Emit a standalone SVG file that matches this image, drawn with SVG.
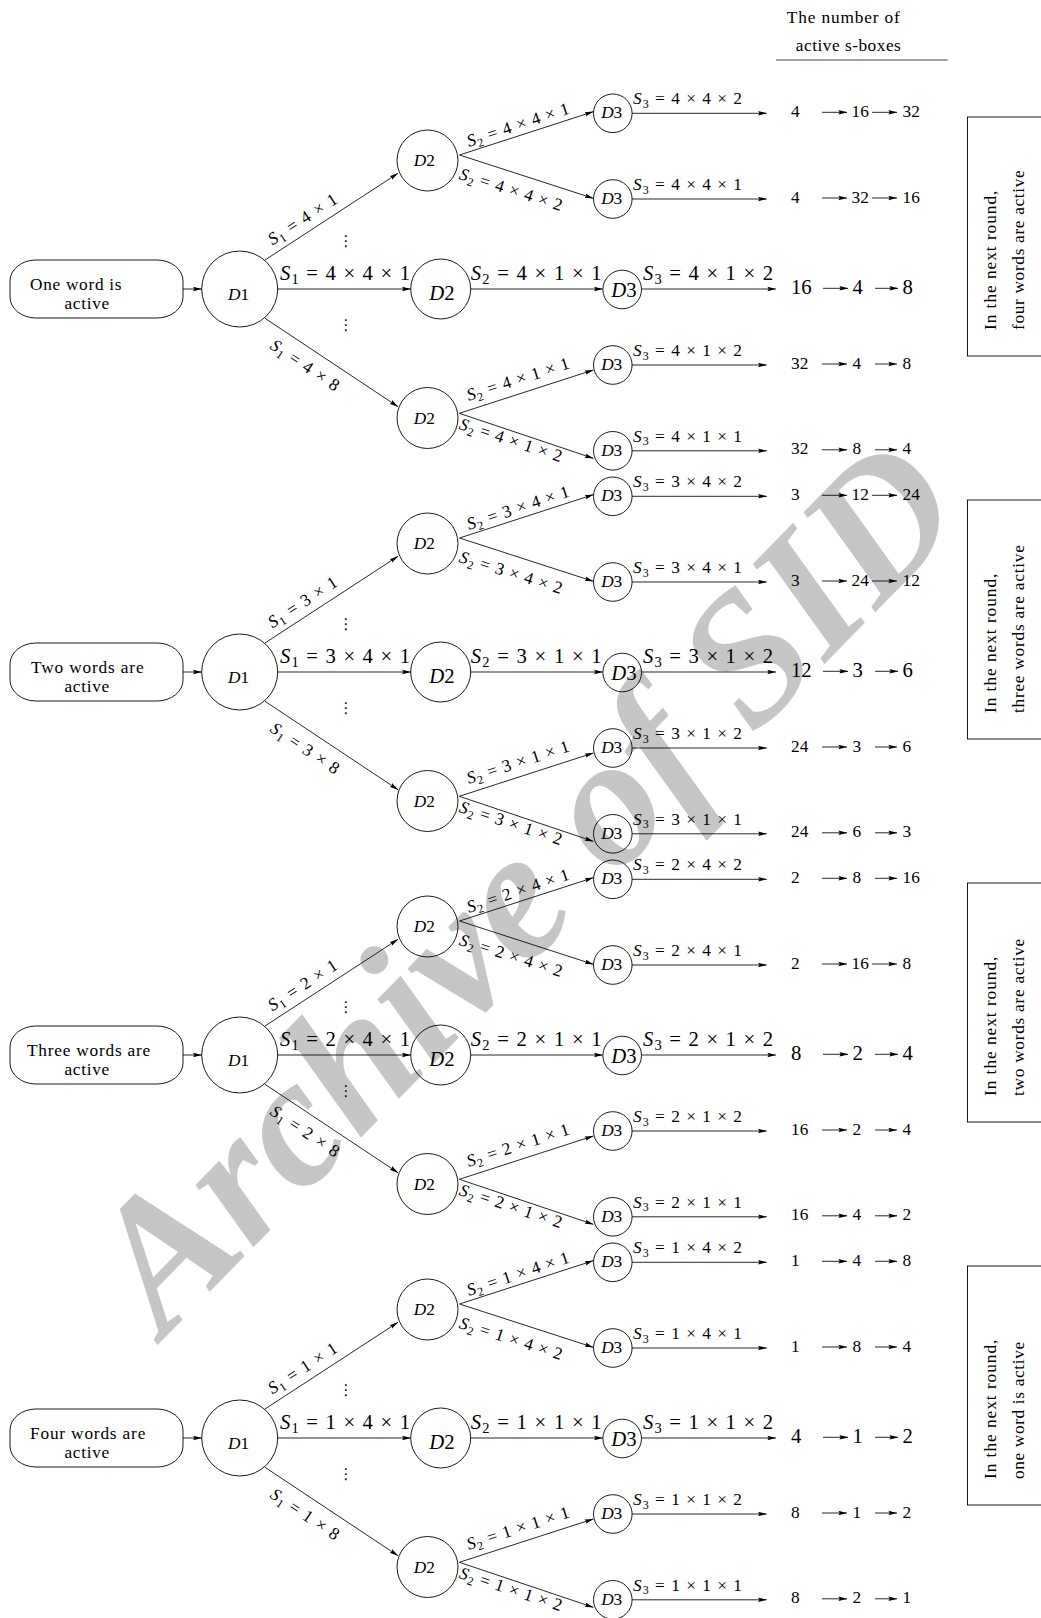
<svg xmlns="http://www.w3.org/2000/svg" width="1041" height="1618" viewBox="0 0 1041 1618">
<style>
.t{font-family:"Liberation Serif","Times New Roman",serif;fill:#000}
.n{font-size:17.3px}
.L{font-size:20.7px}
.i{font-style:italic}
.s{font-size:12px}
.sL{font-size:14.5px}
.ln{stroke:#000;stroke-width:0.85;fill:none}
.a{marker-end:url(#ah)}
.c{fill:none;stroke:#000;stroke-width:0.9}
.dots{font-family:"DejaVu Sans",sans-serif;font-size:15px;fill:#000}
.wm{font-family:"Liberation Serif","Times New Roman",serif;font-weight:bold;font-style:italic;font-size:185px;fill:#c6c6c6}
</style>
<defs>
<marker id="ah" markerUnits="userSpaceOnUse" markerWidth="9" markerHeight="6" viewBox="0 0 9 6" refX="8.6" refY="3" orient="auto"><path d="M0,0.8 L9,3 L0,5.2 L1.4,3 z" fill="#000"/></marker>
</defs>
<rect width="1041" height="1618" fill="#fff"/>
<text class="wm" x="567" y="927" text-anchor="middle" transform="rotate(-45.6 567 927)">Archive of SID</text>

<g id="header">
<text class="t n" x="843.3" y="22.7" text-anchor="middle" textLength="113">The number of</text>
<text class="t n" x="848.3" y="50.7" text-anchor="middle" textLength="105">active s-boxes</text>
<line x1="776" y1="60" x2="947.7" y2="60" stroke="#444" stroke-width="1"/>
</g>

<!-- ===== Nodes group 1 (Y=289) ===== -->
<g id="g1-start" transform="translate(0,289)"><rect class="c" x="10" y="-29" width="173" height="58" rx="26" ry="21"/><text class="t n" x="30" y="1" textLength="91.5">One word is</text><text class="t n" x="64.5" y="20" textLength="44.7">active</text></g>
<g id="g1-D1" transform="translate(0,289)"><circle class="c" cx="239.7" cy="0" r="38"/><text class="t n" x="238.5" y="11" text-anchor="middle"><tspan class="i">D</tspan>1</text></g>
<g id="g1-D2u" transform="translate(0,289)"><circle class="c" cx="427.5" cy="-128.5" r="30.5"/><text class="t n" x="424.3" y="-123" text-anchor="middle"><tspan class="i">D</tspan>2</text></g>
<g id="g1-D2m" transform="translate(0,289)"><circle class="c" cx="440.7" cy="0" r="30"/><text class="t L" x="442" y="11" text-anchor="middle"><tspan class="i">D</tspan>2</text></g>
<g id="g1-D2l" transform="translate(0,289)"><circle class="c" cx="427.5" cy="129" r="30.5"/><text class="t n" x="424.3" y="134.5" text-anchor="middle"><tspan class="i">D</tspan>2</text></g>
<g id="g1-D3a" transform="translate(0,289)"><circle class="c" cx="612.8" cy="-175.7" r="19.3"/><text class="t n" x="611.7" y="-170.7" text-anchor="middle"><tspan class="i">D</tspan>3</text></g>
<g id="g1-D3b" transform="translate(0,289)"><circle class="c" cx="612.8" cy="-90" r="19.3"/><text class="t n" x="611.7" y="-85" text-anchor="middle"><tspan class="i">D</tspan>3</text></g>
<g id="g1-D3m" transform="translate(0,289)"><circle class="c" cx="622.2" cy="0.5" r="19.3"/><text class="t L" x="624" y="7.7" text-anchor="middle"><tspan class="i">D</tspan>3</text></g>
<g id="g1-D3d" transform="translate(0,289)"><circle class="c" cx="612.8" cy="76" r="19.3"/><text class="t n" x="611.7" y="81" text-anchor="middle"><tspan class="i">D</tspan>3</text></g>
<g id="g1-D3e" transform="translate(0,289)"><circle class="c" cx="612.8" cy="161.8" r="19.3"/><text class="t n" x="611.7" y="166.8" text-anchor="middle"><tspan class="i">D</tspan>3</text></g>
<g id="g1-result" transform="translate(0,289)"><rect class="c" x="967.5" y="-172" width="80" height="239"/><text class="t n" transform="translate(995.5,41) rotate(-90)" textLength="139.4">In the next round,</text><text class="t n" transform="translate(1023.5,41) rotate(-90)" textLength="159.8">four words are active</text></g>

<!-- ===== Nodes group 2 (Y=672) ===== -->
<g id="g2-start" transform="translate(0,672)"><rect class="c" x="10" y="-29" width="173" height="58" rx="26" ry="21"/><text class="t n" x="31" y="1" textLength="112.6">Two words are</text><text class="t n" x="64.5" y="20" textLength="44.7">active</text></g>
<g id="g2-D1" transform="translate(0,672)"><circle class="c" cx="239.7" cy="0" r="38"/><text class="t n" x="238.5" y="11" text-anchor="middle"><tspan class="i">D</tspan>1</text></g>
<g id="g2-D2u" transform="translate(0,672)"><circle class="c" cx="427.5" cy="-128.5" r="30.5"/><text class="t n" x="424.3" y="-123" text-anchor="middle"><tspan class="i">D</tspan>2</text></g>
<g id="g2-D2m" transform="translate(0,672)"><circle class="c" cx="440.7" cy="0" r="30"/><text class="t L" x="442" y="11" text-anchor="middle"><tspan class="i">D</tspan>2</text></g>
<g id="g2-D2l" transform="translate(0,672)"><circle class="c" cx="427.5" cy="129" r="30.5"/><text class="t n" x="424.3" y="134.5" text-anchor="middle"><tspan class="i">D</tspan>2</text></g>
<g id="g2-D3a" transform="translate(0,672)"><circle class="c" cx="612.8" cy="-175.7" r="19.3"/><text class="t n" x="611.7" y="-170.7" text-anchor="middle"><tspan class="i">D</tspan>3</text></g>
<g id="g2-D3b" transform="translate(0,672)"><circle class="c" cx="612.8" cy="-90" r="19.3"/><text class="t n" x="611.7" y="-85" text-anchor="middle"><tspan class="i">D</tspan>3</text></g>
<g id="g2-D3m" transform="translate(0,672)"><circle class="c" cx="622.2" cy="0.5" r="19.3"/><text class="t L" x="624" y="7.7" text-anchor="middle"><tspan class="i">D</tspan>3</text></g>
<g id="g2-D3d" transform="translate(0,672)"><circle class="c" cx="612.8" cy="76" r="19.3"/><text class="t n" x="611.7" y="81" text-anchor="middle"><tspan class="i">D</tspan>3</text></g>
<g id="g2-D3e" transform="translate(0,672)"><circle class="c" cx="612.8" cy="161.8" r="19.3"/><text class="t n" x="611.7" y="166.8" text-anchor="middle"><tspan class="i">D</tspan>3</text></g>
<g id="g2-result" transform="translate(0,672)"><rect class="c" x="967.5" y="-172" width="80" height="239"/><text class="t n" transform="translate(995.5,41) rotate(-90)" textLength="139.4">In the next round,</text><text class="t n" transform="translate(1023.5,41) rotate(-90)" textLength="167.9">three words are active</text></g>

<!-- ===== Nodes group 3 (Y=1055) ===== -->
<g id="g3-start" transform="translate(0,1055)"><rect class="c" x="10" y="-29" width="173" height="58" rx="26" ry="21"/><text class="t n" x="27" y="1" textLength="123.2">Three words are</text><text class="t n" x="64.5" y="20" textLength="44.7">active</text></g>
<g id="g3-D1" transform="translate(0,1055)"><circle class="c" cx="239.7" cy="0" r="38"/><text class="t n" x="238.5" y="11" text-anchor="middle"><tspan class="i">D</tspan>1</text></g>
<g id="g3-D2u" transform="translate(0,1055)"><circle class="c" cx="427.5" cy="-128.5" r="30.5"/><text class="t n" x="424.3" y="-123" text-anchor="middle"><tspan class="i">D</tspan>2</text></g>
<g id="g3-D2m" transform="translate(0,1055)"><circle class="c" cx="440.7" cy="0" r="30"/><text class="t L" x="442" y="11" text-anchor="middle"><tspan class="i">D</tspan>2</text></g>
<g id="g3-D2l" transform="translate(0,1055)"><circle class="c" cx="427.5" cy="129" r="30.5"/><text class="t n" x="424.3" y="134.5" text-anchor="middle"><tspan class="i">D</tspan>2</text></g>
<g id="g3-D3a" transform="translate(0,1055)"><circle class="c" cx="612.8" cy="-175.7" r="19.3"/><text class="t n" x="611.7" y="-170.7" text-anchor="middle"><tspan class="i">D</tspan>3</text></g>
<g id="g3-D3b" transform="translate(0,1055)"><circle class="c" cx="612.8" cy="-90" r="19.3"/><text class="t n" x="611.7" y="-85" text-anchor="middle"><tspan class="i">D</tspan>3</text></g>
<g id="g3-D3m" transform="translate(0,1055)"><circle class="c" cx="622.2" cy="0.5" r="19.3"/><text class="t L" x="624" y="7.7" text-anchor="middle"><tspan class="i">D</tspan>3</text></g>
<g id="g3-D3d" transform="translate(0,1055)"><circle class="c" cx="612.8" cy="76" r="19.3"/><text class="t n" x="611.7" y="81" text-anchor="middle"><tspan class="i">D</tspan>3</text></g>
<g id="g3-D3e" transform="translate(0,1055)"><circle class="c" cx="612.8" cy="161.8" r="19.3"/><text class="t n" x="611.7" y="166.8" text-anchor="middle"><tspan class="i">D</tspan>3</text></g>
<g id="g3-result" transform="translate(0,1055)"><rect class="c" x="967.5" y="-172" width="80" height="239"/><text class="t n" transform="translate(995.5,41) rotate(-90)" textLength="139.4">In the next round,</text><text class="t n" transform="translate(1023.5,41) rotate(-90)" textLength="157.3">two words are active</text></g>

<!-- ===== Nodes group 4 (Y=1438) ===== -->
<g id="g4-start" transform="translate(0,1438)"><rect class="c" x="10" y="-29" width="173" height="58" rx="26" ry="21"/><text class="t n" x="30" y="1" textLength="115.3">Four words are</text><text class="t n" x="64.5" y="20" textLength="44.7">active</text></g>
<g id="g4-D1" transform="translate(0,1438)"><circle class="c" cx="239.7" cy="0" r="38"/><text class="t n" x="238.5" y="11" text-anchor="middle"><tspan class="i">D</tspan>1</text></g>
<g id="g4-D2u" transform="translate(0,1438)"><circle class="c" cx="427.5" cy="-128.5" r="30.5"/><text class="t n" x="424.3" y="-123" text-anchor="middle"><tspan class="i">D</tspan>2</text></g>
<g id="g4-D2m" transform="translate(0,1438)"><circle class="c" cx="440.7" cy="0" r="30"/><text class="t L" x="442" y="11" text-anchor="middle"><tspan class="i">D</tspan>2</text></g>
<g id="g4-D2l" transform="translate(0,1438)"><circle class="c" cx="427.5" cy="129" r="30.5"/><text class="t n" x="424.3" y="134.5" text-anchor="middle"><tspan class="i">D</tspan>2</text></g>
<g id="g4-D3a" transform="translate(0,1438)"><circle class="c" cx="612.8" cy="-175.7" r="19.3"/><text class="t n" x="611.7" y="-170.7" text-anchor="middle"><tspan class="i">D</tspan>3</text></g>
<g id="g4-D3b" transform="translate(0,1438)"><circle class="c" cx="612.8" cy="-90" r="19.3"/><text class="t n" x="611.7" y="-85" text-anchor="middle"><tspan class="i">D</tspan>3</text></g>
<g id="g4-D3m" transform="translate(0,1438)"><circle class="c" cx="622.2" cy="0.5" r="19.3"/><text class="t L" x="624" y="7.7" text-anchor="middle"><tspan class="i">D</tspan>3</text></g>
<g id="g4-D3d" transform="translate(0,1438)"><circle class="c" cx="612.8" cy="76" r="19.3"/><text class="t n" x="611.7" y="81" text-anchor="middle"><tspan class="i">D</tspan>3</text></g>
<g id="g4-D3e" transform="translate(0,1438)"><circle class="c" cx="612.8" cy="161.8" r="19.3"/><text class="t n" x="611.7" y="166.8" text-anchor="middle"><tspan class="i">D</tspan>3</text></g>
<g id="g4-result" transform="translate(0,1438)"><rect class="c" x="967.5" y="-172" width="80" height="239"/><text class="t n" transform="translate(995.5,41) rotate(-90)" textLength="139.4">In the next round,</text><text class="t n" transform="translate(1023.5,41) rotate(-90)" textLength="137.1">one word is active</text></g>

<!-- ===== Connectors ===== -->
<g id="connectors">
<g transform="translate(0,289)">
<line class="ln a" x1="183" y1="0" x2="201.7" y2="0"/>
<line class="ln a" x1="265" y1="-29" x2="398" y2="-115.7"/>
<line class="ln a" x1="277.7" y1="0" x2="410.7" y2="0"/>
<line class="ln a" x1="265" y1="29.3" x2="398" y2="117.7"/>
<line class="ln a" x1="459.5" y1="-134" x2="593.3" y2="-177.3"/>
<line class="ln a" x1="459.5" y1="-134" x2="593.3" y2="-90.7"/>
<line class="ln a" x1="470.7" y1="0" x2="602.7" y2="0"/>
<line class="ln a" x1="459.3" y1="124.3" x2="593.3" y2="81"/>
<line class="ln a" x1="459.3" y1="124.3" x2="593.3" y2="169.3"/>
<line class="ln a" x1="632.1" y1="-175.7" x2="766.7" y2="-175.7"/>
<line class="ln a" x1="632.1" y1="-90" x2="766.7" y2="-90"/>
<line class="ln a" x1="641.5" y1="0" x2="776" y2="0"/>
<line class="ln a" x1="632.1" y1="76" x2="766.7" y2="76"/>
<line class="ln a" x1="632.1" y1="161.8" x2="766.7" y2="161.8"/>
<line class="ln a" x1="822" y1="-176.7" x2="847" y2="-176.7"/><line class="ln a" x1="872" y1="-176.7" x2="897" y2="-176.7"/>
<line class="ln a" x1="822" y1="-91" x2="847" y2="-91"/><line class="ln a" x1="872" y1="-91" x2="897" y2="-91"/>
<line class="ln a" x1="823" y1="-0.7" x2="848" y2="-0.7"/><line class="ln a" x1="875" y1="-0.7" x2="898" y2="-0.7"/>
<line class="ln a" x1="822" y1="75" x2="847" y2="75"/><line class="ln a" x1="875" y1="75" x2="897" y2="75"/>
<line class="ln a" x1="822" y1="160.8" x2="847" y2="160.8"/><line class="ln a" x1="875" y1="160.8" x2="897" y2="160.8"/>
</g>
<g transform="translate(0,672)">
<line class="ln a" x1="183" y1="0" x2="201.7" y2="0"/>
<line class="ln a" x1="265" y1="-29" x2="398" y2="-115.7"/>
<line class="ln a" x1="277.7" y1="0" x2="410.7" y2="0"/>
<line class="ln a" x1="265" y1="29.3" x2="398" y2="117.7"/>
<line class="ln a" x1="459.5" y1="-134" x2="593.3" y2="-177.3"/>
<line class="ln a" x1="459.5" y1="-134" x2="593.3" y2="-90.7"/>
<line class="ln a" x1="470.7" y1="0" x2="602.7" y2="0"/>
<line class="ln a" x1="459.3" y1="124.3" x2="593.3" y2="81"/>
<line class="ln a" x1="459.3" y1="124.3" x2="593.3" y2="169.3"/>
<line class="ln a" x1="632.1" y1="-175.7" x2="766.7" y2="-175.7"/>
<line class="ln a" x1="632.1" y1="-90" x2="766.7" y2="-90"/>
<line class="ln a" x1="641.5" y1="0" x2="776" y2="0"/>
<line class="ln a" x1="632.1" y1="76" x2="766.7" y2="76"/>
<line class="ln a" x1="632.1" y1="161.8" x2="766.7" y2="161.8"/>
<line class="ln a" x1="822" y1="-176.7" x2="847" y2="-176.7"/><line class="ln a" x1="872" y1="-176.7" x2="897" y2="-176.7"/>
<line class="ln a" x1="822" y1="-91" x2="847" y2="-91"/><line class="ln a" x1="872" y1="-91" x2="897" y2="-91"/>
<line class="ln a" x1="823" y1="-0.7" x2="848" y2="-0.7"/><line class="ln a" x1="875" y1="-0.7" x2="898" y2="-0.7"/>
<line class="ln a" x1="822" y1="75" x2="847" y2="75"/><line class="ln a" x1="875" y1="75" x2="897" y2="75"/>
<line class="ln a" x1="822" y1="160.8" x2="847" y2="160.8"/><line class="ln a" x1="875" y1="160.8" x2="897" y2="160.8"/>
</g>
<g transform="translate(0,1055)">
<line class="ln a" x1="183" y1="0" x2="201.7" y2="0"/>
<line class="ln a" x1="265" y1="-29" x2="398" y2="-115.7"/>
<line class="ln a" x1="277.7" y1="0" x2="410.7" y2="0"/>
<line class="ln a" x1="265" y1="29.3" x2="398" y2="117.7"/>
<line class="ln a" x1="459.5" y1="-134" x2="593.3" y2="-177.3"/>
<line class="ln a" x1="459.5" y1="-134" x2="593.3" y2="-90.7"/>
<line class="ln a" x1="470.7" y1="0" x2="602.7" y2="0"/>
<line class="ln a" x1="459.3" y1="124.3" x2="593.3" y2="81"/>
<line class="ln a" x1="459.3" y1="124.3" x2="593.3" y2="169.3"/>
<line class="ln a" x1="632.1" y1="-175.7" x2="766.7" y2="-175.7"/>
<line class="ln a" x1="632.1" y1="-90" x2="766.7" y2="-90"/>
<line class="ln a" x1="641.5" y1="0" x2="776" y2="0"/>
<line class="ln a" x1="632.1" y1="76" x2="766.7" y2="76"/>
<line class="ln a" x1="632.1" y1="161.8" x2="766.7" y2="161.8"/>
<line class="ln a" x1="822" y1="-176.7" x2="847" y2="-176.7"/><line class="ln a" x1="875" y1="-176.7" x2="897" y2="-176.7"/>
<line class="ln a" x1="822" y1="-91" x2="847" y2="-91"/><line class="ln a" x1="872" y1="-91" x2="897" y2="-91"/>
<line class="ln a" x1="823" y1="-0.7" x2="848" y2="-0.7"/><line class="ln a" x1="875" y1="-0.7" x2="898" y2="-0.7"/>
<line class="ln a" x1="822" y1="75" x2="847" y2="75"/><line class="ln a" x1="875" y1="75" x2="897" y2="75"/>
<line class="ln a" x1="822" y1="160.8" x2="847" y2="160.8"/><line class="ln a" x1="875" y1="160.8" x2="897" y2="160.8"/>
</g>
<g transform="translate(0,1438)">
<line class="ln a" x1="183" y1="0" x2="201.7" y2="0"/>
<line class="ln a" x1="265" y1="-29" x2="398" y2="-115.7"/>
<line class="ln a" x1="277.7" y1="0" x2="410.7" y2="0"/>
<line class="ln a" x1="265" y1="29.3" x2="398" y2="117.7"/>
<line class="ln a" x1="459.5" y1="-134" x2="593.3" y2="-177.3"/>
<line class="ln a" x1="459.5" y1="-134" x2="593.3" y2="-90.7"/>
<line class="ln a" x1="470.7" y1="0" x2="602.7" y2="0"/>
<line class="ln a" x1="459.3" y1="124.3" x2="593.3" y2="81"/>
<line class="ln a" x1="459.3" y1="124.3" x2="593.3" y2="169.3"/>
<line class="ln a" x1="632.1" y1="-175.7" x2="766.7" y2="-175.7"/>
<line class="ln a" x1="632.1" y1="-90" x2="766.7" y2="-90"/>
<line class="ln a" x1="641.5" y1="0" x2="776" y2="0"/>
<line class="ln a" x1="632.1" y1="76" x2="766.7" y2="76"/>
<line class="ln a" x1="632.1" y1="161.8" x2="766.7" y2="161.8"/>
<line class="ln a" x1="822" y1="-176.7" x2="847" y2="-176.7"/><line class="ln a" x1="875" y1="-176.7" x2="897" y2="-176.7"/>
<line class="ln a" x1="822" y1="-91" x2="847" y2="-91"/><line class="ln a" x1="875" y1="-91" x2="897" y2="-91"/>
<line class="ln a" x1="823" y1="-0.7" x2="848" y2="-0.7"/><line class="ln a" x1="875" y1="-0.7" x2="898" y2="-0.7"/>
<line class="ln a" x1="822" y1="75" x2="847" y2="75"/><line class="ln a" x1="875" y1="75" x2="897" y2="75"/>
<line class="ln a" x1="822" y1="160.8" x2="847" y2="160.8"/><line class="ln a" x1="875" y1="160.8" x2="897" y2="160.8"/>
</g>
</g>

<!-- ===== Edge labels, dots and numbers ===== -->
<g id="labels">
<g transform="translate(0,289)">
<text class="t n" textLength="79" transform="translate(272.5,-43.5) rotate(-33.1)"><tspan class="i">S</tspan><tspan class="s" dy="3.5">1</tspan><tspan dy="-3.5"> = 4 × 1</tspan></text>
<text class="t n" textLength="79" transform="translate(269,59) rotate(33.6)"><tspan class="i">S</tspan><tspan class="s" dy="3.5">1</tspan><tspan dy="-3.5"> = 4 × 8</tspan></text>
<text class="t L" textLength="130" x="280" y="-9"><tspan class="i">S</tspan><tspan class="sL" dy="4">1</tspan><tspan dy="-4"> = 4 × 4 × 1</tspan></text>
<text class="t n" textLength="107" transform="translate(469,-142) rotate(-18.4)"><tspan class="i">S</tspan><tspan class="s" dy="3.5">2</tspan><tspan dy="-3.5"> = 4 × 4 × 1</tspan></text>
<text class="t n" textLength="107" transform="translate(458.3,-110.3) rotate(17.6)"><tspan class="i">S</tspan><tspan class="s" dy="3.5">2</tspan><tspan dy="-3.5"> = 4 × 4 × 2</tspan></text>
<text class="t L" textLength="131" x="470.7" y="-9"><tspan class="i">S</tspan><tspan class="sL" dy="4">2</tspan><tspan dy="-4"> = 4 × 1 × 1</tspan></text>
<text class="t n" textLength="107" transform="translate(468.7,112) rotate(-17.9)"><tspan class="i">S</tspan><tspan class="s" dy="3.5">2</tspan><tspan dy="-3.5"> = 4 × 1 × 1</tspan></text>
<text class="t n" textLength="107" transform="translate(458.3,139.7) rotate(18.2)"><tspan class="i">S</tspan><tspan class="s" dy="3.5">2</tspan><tspan dy="-3.5"> = 4 × 1 × 2</tspan></text>
<text class="t n" textLength="109" x="633" y="-185"><tspan class="i">S</tspan><tspan class="s" dy="3.5">3</tspan><tspan dy="-3.5"> = 4 × 4 × 2</tspan></text>
<text class="t n" textLength="109" x="633" y="-99"><tspan class="i">S</tspan><tspan class="s" dy="3.5">3</tspan><tspan dy="-3.5"> = 4 × 4 × 1</tspan></text>
<text class="t L" textLength="130" x="643" y="-9"><tspan class="i">S</tspan><tspan class="sL" dy="4">3</tspan><tspan dy="-4"> = 4 × 1 × 2</tspan></text>
<text class="t n" textLength="109" x="633" y="67"><tspan class="i">S</tspan><tspan class="s" dy="3.5">3</tspan><tspan dy="-3.5"> = 4 × 1 × 2</tspan></text>
<text class="t n" textLength="109" x="633" y="152.8"><tspan class="i">S</tspan><tspan class="s" dy="3.5">3</tspan><tspan dy="-3.5"> = 4 × 1 × 1</tspan></text>
<text class="dots" x="346" y="-43" text-anchor="middle">⋮</text><text class="dots" x="346" y="41" text-anchor="middle">⋮</text>
<text class="t n" x="791" y="-172.2">4</text><text class="t n" x="851.5" y="-172.2">16</text><text class="t n" x="902.5" y="-172.2">32</text>
<text class="t n" x="791" y="-86.5">4</text><text class="t n" x="851.5" y="-86.5">32</text><text class="t n" x="902.5" y="-86.5">16</text>
<text class="t L" x="791" y="4.5">16</text><text class="t L" x="852.5" y="4.5">4</text><text class="t L" x="902.5" y="4.5">8</text>
<text class="t n" x="791" y="79.5">32</text><text class="t n" x="852.5" y="79.5">4</text><text class="t n" x="902.5" y="79.5">8</text>
<text class="t n" x="791" y="165.3">32</text><text class="t n" x="852.5" y="165.3">8</text><text class="t n" x="902.5" y="165.3">4</text>
</g>
<g transform="translate(0,672)">
<text class="t n" textLength="79" transform="translate(272.5,-43.5) rotate(-33.1)"><tspan class="i">S</tspan><tspan class="s" dy="3.5">1</tspan><tspan dy="-3.5"> = 3 × 1</tspan></text>
<text class="t n" textLength="79" transform="translate(269,59) rotate(33.6)"><tspan class="i">S</tspan><tspan class="s" dy="3.5">1</tspan><tspan dy="-3.5"> = 3 × 8</tspan></text>
<text class="t L" textLength="130" x="280" y="-9"><tspan class="i">S</tspan><tspan class="sL" dy="4">1</tspan><tspan dy="-4"> = 3 × 4 × 1</tspan></text>
<text class="t n" textLength="107" transform="translate(469,-142) rotate(-18.4)"><tspan class="i">S</tspan><tspan class="s" dy="3.5">2</tspan><tspan dy="-3.5"> = 3 × 4 × 1</tspan></text>
<text class="t n" textLength="107" transform="translate(458.3,-110.3) rotate(17.6)"><tspan class="i">S</tspan><tspan class="s" dy="3.5">2</tspan><tspan dy="-3.5"> = 3 × 4 × 2</tspan></text>
<text class="t L" textLength="131" x="470.7" y="-9"><tspan class="i">S</tspan><tspan class="sL" dy="4">2</tspan><tspan dy="-4"> = 3 × 1 × 1</tspan></text>
<text class="t n" textLength="107" transform="translate(468.7,112) rotate(-17.9)"><tspan class="i">S</tspan><tspan class="s" dy="3.5">2</tspan><tspan dy="-3.5"> = 3 × 1 × 1</tspan></text>
<text class="t n" textLength="107" transform="translate(458.3,139.7) rotate(18.2)"><tspan class="i">S</tspan><tspan class="s" dy="3.5">2</tspan><tspan dy="-3.5"> = 3 × 1 × 2</tspan></text>
<text class="t n" textLength="109" x="633" y="-185"><tspan class="i">S</tspan><tspan class="s" dy="3.5">3</tspan><tspan dy="-3.5"> = 3 × 4 × 2</tspan></text>
<text class="t n" textLength="109" x="633" y="-99"><tspan class="i">S</tspan><tspan class="s" dy="3.5">3</tspan><tspan dy="-3.5"> = 3 × 4 × 1</tspan></text>
<text class="t L" textLength="130" x="643" y="-9"><tspan class="i">S</tspan><tspan class="sL" dy="4">3</tspan><tspan dy="-4"> = 3 × 1 × 2</tspan></text>
<text class="t n" textLength="109" x="633" y="67"><tspan class="i">S</tspan><tspan class="s" dy="3.5">3</tspan><tspan dy="-3.5"> = 3 × 1 × 2</tspan></text>
<text class="t n" textLength="109" x="633" y="152.8"><tspan class="i">S</tspan><tspan class="s" dy="3.5">3</tspan><tspan dy="-3.5"> = 3 × 1 × 1</tspan></text>
<text class="dots" x="346" y="-43" text-anchor="middle">⋮</text><text class="dots" x="346" y="41" text-anchor="middle">⋮</text>
<text class="t n" x="791" y="-172.2">3</text><text class="t n" x="851.5" y="-172.2">12</text><text class="t n" x="902.5" y="-172.2">24</text>
<text class="t n" x="791" y="-86.5">3</text><text class="t n" x="851.5" y="-86.5">24</text><text class="t n" x="902.5" y="-86.5">12</text>
<text class="t L" x="791" y="4.5">12</text><text class="t L" x="852.5" y="4.5">3</text><text class="t L" x="902.5" y="4.5">6</text>
<text class="t n" x="791" y="79.5">24</text><text class="t n" x="852.5" y="79.5">3</text><text class="t n" x="902.5" y="79.5">6</text>
<text class="t n" x="791" y="165.3">24</text><text class="t n" x="852.5" y="165.3">6</text><text class="t n" x="902.5" y="165.3">3</text>
</g>
<g transform="translate(0,1055)">
<text class="t n" textLength="79" transform="translate(272.5,-43.5) rotate(-33.1)"><tspan class="i">S</tspan><tspan class="s" dy="3.5">1</tspan><tspan dy="-3.5"> = 2 × 1</tspan></text>
<text class="t n" textLength="79" transform="translate(269,59) rotate(33.6)"><tspan class="i">S</tspan><tspan class="s" dy="3.5">1</tspan><tspan dy="-3.5"> = 2 × 8</tspan></text>
<text class="t L" textLength="130" x="280" y="-9"><tspan class="i">S</tspan><tspan class="sL" dy="4">1</tspan><tspan dy="-4"> = 2 × 4 × 1</tspan></text>
<text class="t n" textLength="107" transform="translate(469,-142) rotate(-18.4)"><tspan class="i">S</tspan><tspan class="s" dy="3.5">2</tspan><tspan dy="-3.5"> = 2 × 4 × 1</tspan></text>
<text class="t n" textLength="107" transform="translate(458.3,-110.3) rotate(17.6)"><tspan class="i">S</tspan><tspan class="s" dy="3.5">2</tspan><tspan dy="-3.5"> = 2 × 4 × 2</tspan></text>
<text class="t L" textLength="131" x="470.7" y="-9"><tspan class="i">S</tspan><tspan class="sL" dy="4">2</tspan><tspan dy="-4"> = 2 × 1 × 1</tspan></text>
<text class="t n" textLength="107" transform="translate(468.7,112) rotate(-17.9)"><tspan class="i">S</tspan><tspan class="s" dy="3.5">2</tspan><tspan dy="-3.5"> = 2 × 1 × 1</tspan></text>
<text class="t n" textLength="107" transform="translate(458.3,139.7) rotate(18.2)"><tspan class="i">S</tspan><tspan class="s" dy="3.5">2</tspan><tspan dy="-3.5"> = 2 × 1 × 2</tspan></text>
<text class="t n" textLength="109" x="633" y="-185"><tspan class="i">S</tspan><tspan class="s" dy="3.5">3</tspan><tspan dy="-3.5"> = 2 × 4 × 2</tspan></text>
<text class="t n" textLength="109" x="633" y="-99"><tspan class="i">S</tspan><tspan class="s" dy="3.5">3</tspan><tspan dy="-3.5"> = 2 × 4 × 1</tspan></text>
<text class="t L" textLength="130" x="643" y="-9"><tspan class="i">S</tspan><tspan class="sL" dy="4">3</tspan><tspan dy="-4"> = 2 × 1 × 2</tspan></text>
<text class="t n" textLength="109" x="633" y="67"><tspan class="i">S</tspan><tspan class="s" dy="3.5">3</tspan><tspan dy="-3.5"> = 2 × 1 × 2</tspan></text>
<text class="t n" textLength="109" x="633" y="152.8"><tspan class="i">S</tspan><tspan class="s" dy="3.5">3</tspan><tspan dy="-3.5"> = 2 × 1 × 1</tspan></text>
<text class="dots" x="346" y="-43" text-anchor="middle">⋮</text><text class="dots" x="346" y="41" text-anchor="middle">⋮</text>
<text class="t n" x="791" y="-172.2">2</text><text class="t n" x="852.5" y="-172.2">8</text><text class="t n" x="902.5" y="-172.2">16</text>
<text class="t n" x="791" y="-86.5">2</text><text class="t n" x="851.5" y="-86.5">16</text><text class="t n" x="902.5" y="-86.5">8</text>
<text class="t L" x="791" y="4.5">8</text><text class="t L" x="852.5" y="4.5">2</text><text class="t L" x="902.5" y="4.5">4</text>
<text class="t n" x="791" y="79.5">16</text><text class="t n" x="852.5" y="79.5">2</text><text class="t n" x="902.5" y="79.5">4</text>
<text class="t n" x="791" y="165.3">16</text><text class="t n" x="852.5" y="165.3">4</text><text class="t n" x="902.5" y="165.3">2</text>
</g>
<g transform="translate(0,1438)">
<text class="t n" textLength="79" transform="translate(272.5,-43.5) rotate(-33.1)"><tspan class="i">S</tspan><tspan class="s" dy="3.5">1</tspan><tspan dy="-3.5"> = 1 × 1</tspan></text>
<text class="t n" textLength="79" transform="translate(269,59) rotate(33.6)"><tspan class="i">S</tspan><tspan class="s" dy="3.5">1</tspan><tspan dy="-3.5"> = 1 × 8</tspan></text>
<text class="t L" textLength="130" x="280" y="-9"><tspan class="i">S</tspan><tspan class="sL" dy="4">1</tspan><tspan dy="-4"> = 1 × 4 × 1</tspan></text>
<text class="t n" textLength="107" transform="translate(469,-142) rotate(-18.4)"><tspan class="i">S</tspan><tspan class="s" dy="3.5">2</tspan><tspan dy="-3.5"> = 1 × 4 × 1</tspan></text>
<text class="t n" textLength="107" transform="translate(458.3,-110.3) rotate(17.6)"><tspan class="i">S</tspan><tspan class="s" dy="3.5">2</tspan><tspan dy="-3.5"> = 1 × 4 × 2</tspan></text>
<text class="t L" textLength="131" x="470.7" y="-9"><tspan class="i">S</tspan><tspan class="sL" dy="4">2</tspan><tspan dy="-4"> = 1 × 1 × 1</tspan></text>
<text class="t n" textLength="107" transform="translate(468.7,112) rotate(-17.9)"><tspan class="i">S</tspan><tspan class="s" dy="3.5">2</tspan><tspan dy="-3.5"> = 1 × 1 × 1</tspan></text>
<text class="t n" textLength="107" transform="translate(458.3,139.7) rotate(18.2)"><tspan class="i">S</tspan><tspan class="s" dy="3.5">2</tspan><tspan dy="-3.5"> = 1 × 1 × 2</tspan></text>
<text class="t n" textLength="109" x="633" y="-185"><tspan class="i">S</tspan><tspan class="s" dy="3.5">3</tspan><tspan dy="-3.5"> = 1 × 4 × 2</tspan></text>
<text class="t n" textLength="109" x="633" y="-99"><tspan class="i">S</tspan><tspan class="s" dy="3.5">3</tspan><tspan dy="-3.5"> = 1 × 4 × 1</tspan></text>
<text class="t L" textLength="130" x="643" y="-9"><tspan class="i">S</tspan><tspan class="sL" dy="4">3</tspan><tspan dy="-4"> = 1 × 1 × 2</tspan></text>
<text class="t n" textLength="109" x="633" y="67"><tspan class="i">S</tspan><tspan class="s" dy="3.5">3</tspan><tspan dy="-3.5"> = 1 × 1 × 2</tspan></text>
<text class="t n" textLength="109" x="633" y="152.8"><tspan class="i">S</tspan><tspan class="s" dy="3.5">3</tspan><tspan dy="-3.5"> = 1 × 1 × 1</tspan></text>
<text class="dots" x="346" y="-43" text-anchor="middle">⋮</text><text class="dots" x="346" y="41" text-anchor="middle">⋮</text>
<text class="t n" x="791" y="-172.2">1</text><text class="t n" x="852.5" y="-172.2">4</text><text class="t n" x="902.5" y="-172.2">8</text>
<text class="t n" x="791" y="-86.5">1</text><text class="t n" x="852.5" y="-86.5">8</text><text class="t n" x="902.5" y="-86.5">4</text>
<text class="t L" x="791" y="4.5">4</text><text class="t L" x="852.5" y="4.5">1</text><text class="t L" x="902.5" y="4.5">2</text>
<text class="t n" x="791" y="79.5">8</text><text class="t n" x="852.5" y="79.5">1</text><text class="t n" x="902.5" y="79.5">2</text>
<text class="t n" x="791" y="165.3">8</text><text class="t n" x="852.5" y="165.3">2</text><text class="t n" x="902.5" y="165.3">1</text>
</g>
</g>
</svg>
